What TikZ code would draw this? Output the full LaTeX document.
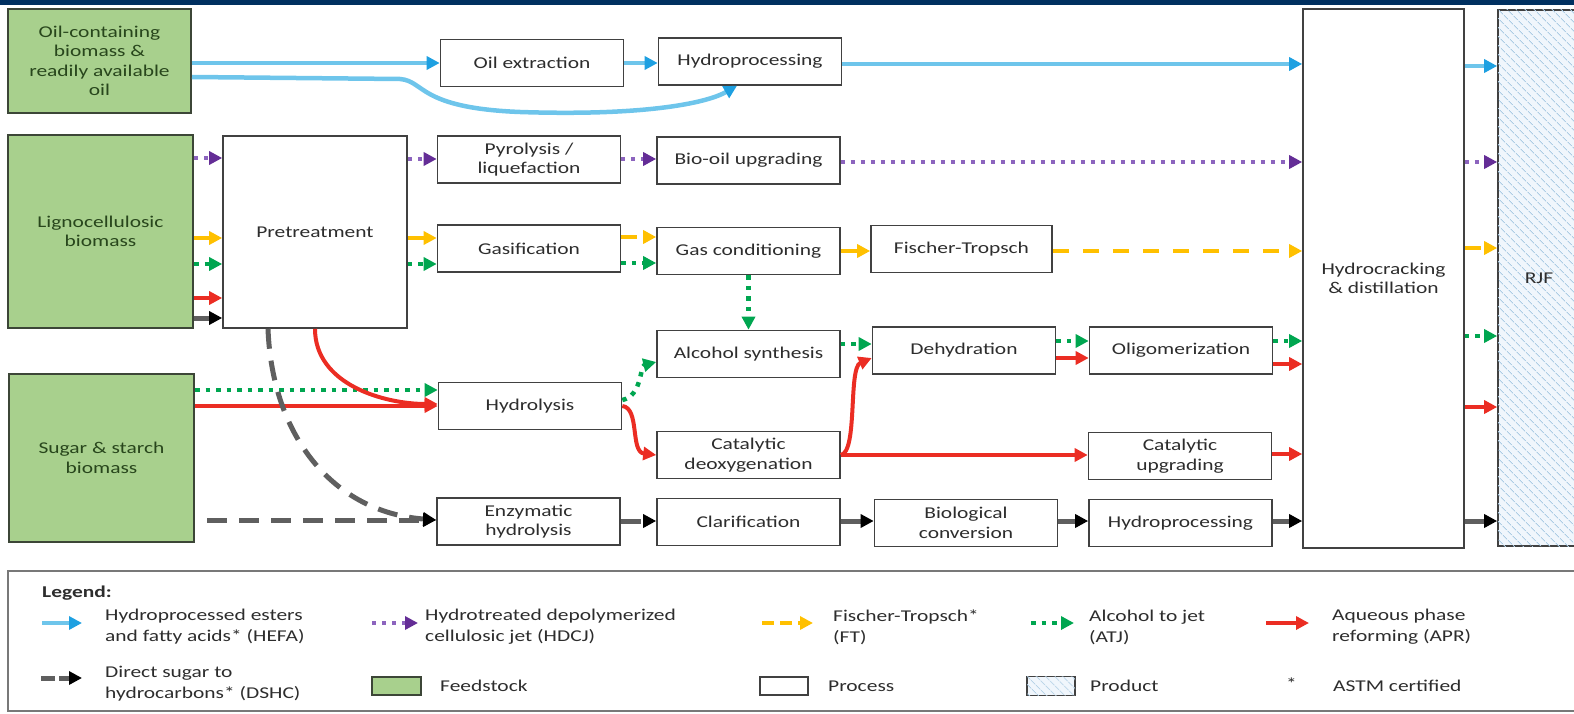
\documentclass[tikz,border=0pt]{standalone}
\usepackage{fontspec}
\setmainfont{Carlito}[FakeStretch=1.3]
\usetikzlibrary{arrows.meta,patterns,patterns.meta,positioning}

\definecolor{navy}{RGB}{0,48,96}
\definecolor{boxline}{RGB}{65,65,65}
\definecolor{txt}{RGB}{45,45,45}
\definecolor{feedgreen}{RGB}{168,208,141}
\definecolor{feedline}{RGB}{60,70,55}
\definecolor{feedtxt}{RGB}{40,70,28}
\definecolor{prodfill}{RGB}{240,246,252}
\definecolor{prodhatch}{RGB}{172,204,228}
\definecolor{legline}{RGB}{120,120,120}
\definecolor{hefac}{RGB}{110,197,235}
\definecolor{hefatip}{RGB}{30,160,225}
\definecolor{hdcjl}{RGB}{140,100,190}
\definecolor{hdcjc}{RGB}{100,45,150}
\definecolor{ftc}{RGB}{255,192,0}
\definecolor{atjc}{RGB}{0,166,80}
\definecolor{aprc}{RGB}{235,45,35}
\definecolor{dshcc}{RGB}{95,95,95}

\tikzset{
  proc/.style={draw=boxline, line width=1.6pt, fill=white, minimum width=183pt, minimum height=47pt,
    align=center, text=txt, inner sep=2pt, font=\fontsize{16.5}{19.5}\selectfont},
  feed/.style={proc, draw=feedline, line width=2pt, fill=feedgreen, text=feedtxt},
  prod/.style={proc, fill=prodfill, postaction={pattern={Lines[angle=-45,distance=6.5pt,line width=1pt]}, pattern color=prodhatch}},
  lgtxt/.style={align=left, anchor=west, text=txt, inner sep=0pt, font=\fontsize{16.5}{21}\selectfont},
  tip/.style={-{Triangle[length=13pt,width=13pt,color=#1]}},
  hefa/.style={draw=hefac, line width=4.5pt, tip=hefatip},
  hdcj/.style={draw=hdcjl, line width=4pt, dash pattern=on 4pt off 6pt, tip=hdcjc},
  fitr/.style={draw=ftc, line width=4pt, dash pattern=on 16pt off 14pt, tip=ftc},
  atj/.style={draw=atjc, line width=4.5pt, dash pattern=on 4.5pt off 6pt, tip=atjc},
  apr/.style={draw=aprc, line width=4pt, tip=aprc},
  dshc/.style={draw=dshcc, line width=5pt, dash pattern=on 20pt off 12pt, tip=black},
}

\begin{document}
\begin{tikzpicture}[x=1pt,y=-1pt]
  \useasboundingbox (0,0) rectangle (1574,714);
  \clip (0,0) rectangle (1574,714);
  \fill[navy] (0,0) rectangle (1574,5);

  % feedstocks
  \node[feed, minimum width=183pt, minimum height=104pt] (oil) at (99.5,61) {Oil-containing\\biomass \&\\readily available\\oil};
  \node[feed, minimum width=185pt, minimum height=193pt] (ligno) at (100.5,231.5) {Lignocellulosic\\biomass};
  \node[feed, minimum width=185pt, minimum height=168pt] (sugar) at (101.5,458) {Sugar \& starch\\biomass};

  % processes
  \node[proc, minimum width=184pt, minimum height=192pt] (pretreat) at (315,232) {Pretreatment};
  \node[proc] (oilx) at (532,63) {Oil extraction};
  \node[proc] (hproca) at (750,61.5) {Hydroprocessing};
  \node[proc] (pyro) at (529,159.5) {Pyrolysis /\\liquefaction};
  \node[proc] (biooil) at (748.5,160.5) {Bio-oil upgrading};
  \node[proc] (gasif) at (529,248.5) {Gasification};
  \node[proc] (gascond) at (748.5,251) {Gas conditioning};
  \node[proc, minimum width=181pt] (fischer) at (961.5,249) {Fischer-Tropsch};
  \node[proc] (alcsyn) at (748.5,354) {Alcohol synthesis};
  \node[proc] (dehyd) at (964,350.5) {Dehydration};
  \node[proc] (oligo) at (1181,350.5) {Oligomerization};
  \node[proc] (hydrol) at (530,406) {Hydrolysis};
  \node[proc] (catdeox) at (748.5,455) {Catalytic\\deoxygenation};
  \node[proc] (catupg) at (1180,456) {Catalytic\\upgrading};
  \node[proc] (enzy) at (528.5,521.5) {Enzymatic\\hydrolysis};
  \node[proc] (clar) at (748.5,522) {Clarification};
  \node[proc] (bioconv) at (966,523) {Biological\\conversion};
  \node[proc] (hprocb) at (1180.5,523) {Hydroprocessing};
  \node[proc, minimum width=161pt, minimum height=539pt] (hcrack) at (1383.5,278.5) {Hydrocracking\\\& distillation};
  \node[prod, minimum width=82pt, minimum height=536pt] (rjf) at (1539,278) {RJF};

  % HEFA
  \draw[hefa] (oil.east |- 0,63) -- (oilx.west |- 0,63);
  \draw[hefa] (oilx.east |- 0,63) -- (hproca.west |- 0,63);
  \draw[hefa] (hproca.east |- 0,64) -- (hcrack.west |- 0,64);
  \draw[hefa] (hcrack.east |- 0,66) -- (rjf.west |- 0,66);
  \draw[hefa] (oil.east |- 0,77) -- (400,79) .. controls (425,81) and (418,108) .. (520,112)
    .. controls (640,116) and (705,104) .. (hproca.south -| 737,0);

  % HDCJ
  \draw[hdcj] (ligno.east |- 0,158) -- (pretreat.west |- 0,158);
  \draw[hdcj] (pretreat.east |- 0,159) -- (pyro.west |- 0,159);
  \draw[hdcj] (pyro.east |- 0,159) -- (biooil.west |- 0,159);
  \draw[hdcj] (biooil.east |- 0,162) -- (hcrack.west |- 0,162);
  \draw[hdcj] (hcrack.east |- 0,162) -- (rjf.west |- 0,162);

  % FT
  \draw[fitr] (ligno.east |- 0,238) -- (pretreat.west |- 0,238);
  \draw[fitr] (pretreat.east |- 0,238) -- (gasif.west |- 0,238);
  \draw[fitr] (gasif.east |- 0,237) -- (gascond.west |- 0,237);
  \draw[fitr] (gascond.east |- 0,251) -- (fischer.west |- 0,251);
  \draw[fitr] (fischer.east |- 0,251) -- (hcrack.west |- 0,251);
  \draw[fitr] (hcrack.east |- 0,248) -- (rjf.west |- 0,248);

  % ATJ
  \draw[atj] (ligno.east |- 0,264) -- (pretreat.west |- 0,264);
  \draw[atj] (pretreat.east |- 0,264) -- (gasif.west |- 0,264);
  \draw[atj] (gasif.east |- 0,263) -- (gascond.west |- 0,263);
  \draw[atj] (gascond.south) -- (alcsyn.north);
  \draw[atj] (sugar.east |- 0,390) -- (hydrol.west |- 0,390);
  \draw[atj] (hydrol.east |- 0,400) .. controls (642,396) and (640,366) .. (alcsyn.west |- 0,362);
  \draw[atj] (alcsyn.east |- 0,344) -- (dehyd.west |- 0,344);
  \draw[atj] (dehyd.east |- 0,341) -- (oligo.west |- 0,341);
  \draw[atj] (oligo.east |- 0,341) -- (hcrack.west |- 0,341);
  \draw[atj] (hcrack.east |- 0,336) -- (rjf.west |- 0,336);

  % APR
  \draw[apr] (ligno.east |- 0,298) -- (pretreat.west |- 0,298);
  \draw[apr] (pretreat.south -| 315,0) .. controls (315,385) and (385,404) .. (hydrol.west |- 0,404);
  \draw[apr] (sugar.east |- 0,406) -- (hydrol.west |- 0,406);
  \draw[apr] (hydrol.east |- 0,406) .. controls (640,408) and (630,452) .. (catdeox.west |- 0,455);
  \draw[apr] (catdeox.east |- 0,455) .. controls (858,452) and (848,368) .. (dehyd.west |- 0,358);
  \draw[apr] (catdeox.east |- 0,455) -- (catupg.west |- 0,455);
  \draw[apr] (dehyd.east |- 0,358) -- (oligo.west |- 0,358);
  \draw[apr] (oligo.east |- 0,364) -- (hcrack.west |- 0,364);
  \draw[apr] (catupg.east |- 0,454) -- (hcrack.west |- 0,454);
  \draw[apr] (hcrack.east |- 0,407) -- (rjf.west |- 0,407);

  % DSHC
  \draw[dshc] (ligno.east |- 0,318) -- (pretreat.west |- 0,318);
  \draw[dshc] (pretreat.south -| 268,0) .. controls (272,435) and (332,512) .. (enzy.west |- 0,520);
  \draw[dshc] ([xshift=12pt]sugar.east |- 0,520) -- (enzy.west |- 0,520);
  \draw[dshc] (enzy.east |- 0,521) -- (clar.west |- 0,521);
  \draw[dshc] (clar.east |- 0,521) -- (bioconv.west |- 0,521);
  \draw[dshc] (bioconv.east |- 0,521) -- (hprocb.west |- 0,521);
  \draw[dshc] (hprocb.east |- 0,521) -- (hcrack.west |- 0,521);
  \draw[dshc] (hcrack.east |- 0,521) -- (rjf.west |- 0,521);

  % legend
  \draw[legline, line width=2pt] (8,571) rectangle (1590,711);
  \node[lgtxt, font=\fontsize{16.5}{21}\selectfont\bfseries] (lgTitle) at (42,593) {Legend:};
  \coordinate (lgHefaA) at (42,623);  \coordinate (lgHefaB) at (82,623);
  \coordinate (lgHdcjA) at (372,623); \coordinate (lgHdcjB) at (418,623);
  \coordinate (lgFtA) at (762,623);   \coordinate (lgFtB) at (813,623);
  \coordinate (lgAtjA) at (1031,623); \coordinate (lgAtjB) at (1074,623);
  \coordinate (lgAprA) at (1266,623); \coordinate (lgAprB) at (1309,623);
  \coordinate (lgDshcA) at (41,678);  \coordinate (lgDshcB) at (82,678);
  \draw[hefa] (lgHefaA) -- (lgHefaB);
  \draw[hdcj] (lgHdcjA) -- (lgHdcjB);
  \draw[fitr, dash pattern=on 12pt off 6pt] (lgFtA) -- (lgFtB);
  \draw[atj] (lgAtjA) -- (lgAtjB);
  \draw[apr] (lgAprA) -- (lgAprB);
  \draw[dshc, dash pattern=on 14pt off 4pt] (lgDshcA) -- (lgDshcB);
  \node[lgtxt] (lgHefa) at (105,627) {Hydroprocessed esters\\and fatty acids* (HEFA)};
  \node[lgtxt] (lgHdcj) at (425,627) {Hydrotreated depolymerized\\cellulosic jet (HDCJ)};
  \node[lgtxt] (lgFt) at (833,627) {Fischer-Tropsch*\\(FT)};
  \node[lgtxt] (lgAtj) at (1089,627) {Alcohol to jet\\(ATJ)};
  \node[lgtxt] (lgApr) at (1332,627) {Aqueous phase\\reforming (APR)};
  \node[lgtxt] (lgDshc) at (105,684) {Direct sugar to\\hydrocarbons* (DSHC)};
  \node[feed, minimum width=49pt, minimum height=18pt] (swFeed) at (396.5,686) {};
  \node[lgtxt] (lgFeed) at (440,686) {Feedstock};
  \node[proc, minimum width=48pt, minimum height=18pt] (swProc) at (784,686) {};
  \node[lgtxt] (lgProc) at (828,686) {Process};
  \node[prod, minimum width=48pt, minimum height=19pt] (swProd) at (1051,686) {};
  \node[lgtxt] (lgProd) at (1090,686) {Product};
  \node[lgtxt] (lgStar) at (1286,684) {*};
  \node[lgtxt] (lgAstm) at (1333,686) {ASTM certified};
\end{tikzpicture}
\end{document}
